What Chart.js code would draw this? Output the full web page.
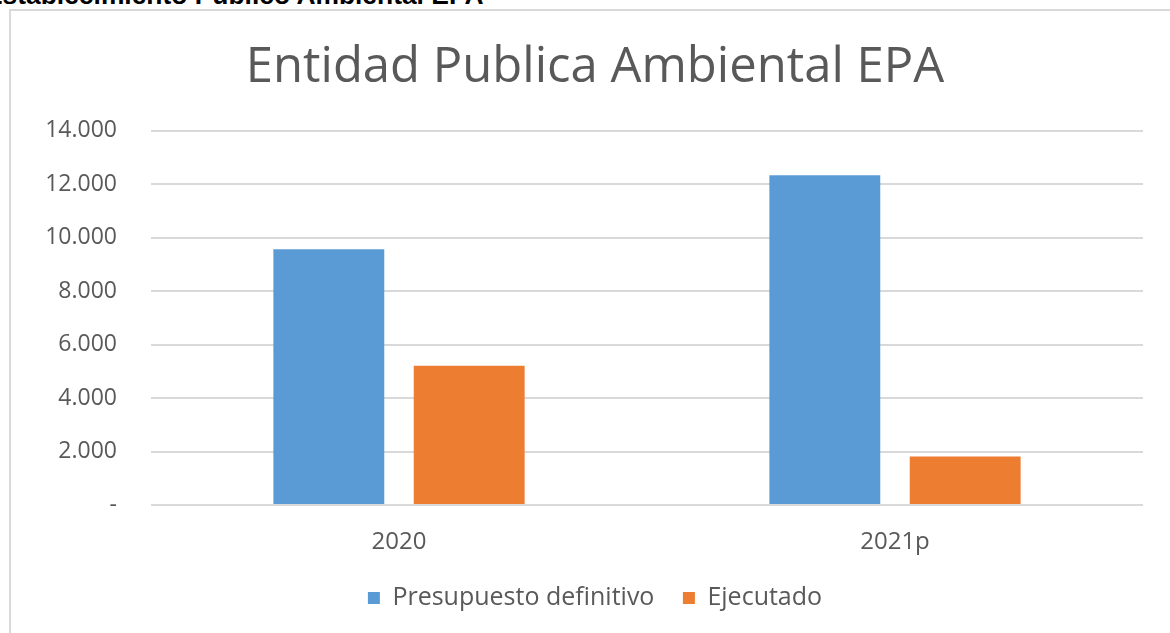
<!DOCTYPE html>
<html>
<head>
<meta charset="utf-8">
<script src="https://cdn.jsdelivr.net/npm/chart.js@4/dist/chart.umd.min.js"></script>
<style>
  html, body { margin: 0; padding: 0; width: 1170px; height: 633px; overflow: hidden; background: #fff; }
  #cut { position: absolute; left: -15px; top: -18px; font: bold 26.4px "Liberation Sans", Arial, sans-serif; line-height: 26px; color: #000; white-space: nowrap; }
  #frame { position: absolute; left: 9px; top: 9px; width: 1200px; height: 660px; border: 2px solid #d9d9d9; box-sizing: border-box; }
  #wrap { position: absolute; left: 11px; top: 11px; width: 1170px; height: 622px; }
</style>
</head>
<body>
<div id="cut">Establecimiento Publico Ambiental EPA</div>
<div id="frame"></div>
<div id="wrap"><canvas id="c"></canvas></div>
<script>
const chartTitle = 'Entidad Publica Ambiental EPA';
const categories = ['2020', '2021p'];
const seriesNames = ['Presupuesto definitivo', 'Ejecutado'];
const presupuesto = [9570, 12340];
const ejecutado = [5210, 1810];
const yTickValues = [0, 2000, 4000, 6000, 8000, 10000, 12000, 14000];
const yTickLabels = ['-', '2.000', '4.000', '6.000', '8.000', '10.000', '12.000', '14.000'];

const txt = '#595959';
const fam = '"Open Sans", "Noto Sans", sans-serif';

new Chart(document.getElementById('c'), {
  type: 'bar',
  data: {
    labels: categories,
    datasets: [
      { label: seriesNames[0], data: presupuesto, backgroundColor: '#5b9bd5', borderWidth: 0 },
      { label: seriesNames[1], data: ejecutado, backgroundColor: '#ed7d31', borderWidth: 0 }
    ]
  },
  options: {
    responsive: true,
    maintainAspectRatio: false,
    animation: false,
    datasets: { bar: { categoryPercentage: 0.566, barPercentage: 0.79 } },
    layout: { padding: { left: 26, right: 28, top: 0, bottom: 12.5 } },
    plugins: {
      tooltip: { enabled: false },
      title: {
        display: true,
        text: chartTitle,
        color: txt,
        font: { family: fam, size: 49, weight: 'normal' },
        padding: { top: 28, bottom: 33 }
      },
      legend: {
        position: 'bottom',
        labels: {
          color: txt,
          font: { family: fam, size: 25 },
          boxWidth: 12,
          boxHeight: 12,
          padding: 28.5
        }
      }
    },
    scales: {
      x: {
        grid: { display: false, drawTicks: false },
        border: { display: false },
        ticks: { color: txt, font: { family: fam, size: 24 }, padding: 22.6 },
        afterFit: (s) => { s.height = 52; }
      },
      y: {
        min: 0,
        max: 14000,
        afterBuildTicks: (s) => { s.ticks = yTickValues.map(v => ({ value: v })); },
        grid: { color: '#d9d9d9', lineWidth: 2, drawTicks: false },
        border: { display: false },
        ticks: {
          color: txt,
          font: { family: fam, size: 23 },
          padding: 34,
          callback: (v, i) => yTickLabels[i]
        },
        afterFit: (s) => { s.width = 114; }
      },
      spacer: {
        type: 'linear',
        position: 'right',
        grid: { display: false, drawTicks: false },
        border: { display: false },
        ticks: { display: false },
        afterFit: (s) => { s.width = 10; }
      }
    }
  }
});
</script>
</body>
</html>
